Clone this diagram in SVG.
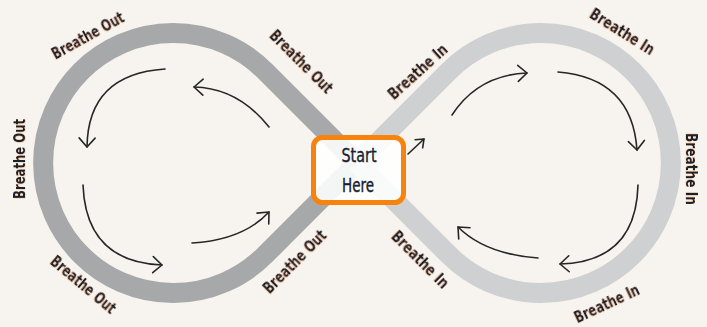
<svg xmlns="http://www.w3.org/2000/svg" width="707" height="327" viewBox="0 0 707 327">
<style>
.bg{fill:#f7f4ef}
.band{fill:none;stroke-width:20;stroke-linejoin:round}
.out{stroke:#a7a8aa}
.in{stroke:#cfd0d2}
.arr{fill:none;stroke:#262626;stroke-width:1.6;stroke-linecap:round}
.lbl{font-family:"DejaVu Sans Condensed","DejaVu Sans",sans-serif;font-stretch:condensed;font-weight:bold;font-size:15.5px;fill:#18202e;text-anchor:middle;dominant-baseline:central;filter:url(#sh)}
.box{fill:#ffffff;fill-opacity:0.88;stroke:#f7830f;stroke-width:5}
.bt{font-family:"DejaVu Sans Condensed","DejaVu Sans",sans-serif;font-stretch:condensed;font-size:19.5px;fill:#18202e;stroke:#18202e;stroke-width:0.35;text-anchor:middle}
</style>
<defs>
<marker id="ah" viewBox="-11 -10 13 20" refX="0" refY="0" markerWidth="13" markerHeight="20" markerUnits="userSpaceOnUse" orient="auto">
<path d="M-9,-8 L0,0 L-9,8" fill="none" stroke="#262626" stroke-width="1.6" stroke-linecap="round" stroke-linejoin="round"/>
</marker>
<marker id="ahs" viewBox="-9 -7 10 14" refX="0" refY="0" markerWidth="10" markerHeight="14" markerUnits="userSpaceOnUse" orient="auto">
<path d="M-7,-5.5 L0,0 L-7,5.5" fill="none" stroke="#262626" stroke-width="1.6" stroke-linecap="round" stroke-linejoin="round"/>
</marker>
<filter id="sh" x="-20%" y="-50%" width="140%" height="200%">
<feDropShadow dx="-0.5" dy="0.5" stdDeviation="0.3" flood-color="#f08a24" flood-opacity="0.45"/>
</filter>
</defs>
<rect class="bg" x="0" y="0" width="707" height="327"/>
<g id="loops">
<path id="loop-out" class="band out" d="M357,163 L265,71 A130,130 0 1 0 265,255 L357,163"/>
<path id="loop-in" class="band in" d="M357,163 L449,71 A130,130 0 1 1 449,255 L357,163"/>
</g>
<g id="connectors">
<path class="arr" marker-end="url(#ah)" d="M269,127 Q238,88 194,87"/>
<path class="arr" marker-end="url(#ah)" d="M165,69 Q88,74 87,147"/>
<path class="arr" marker-end="url(#ah)" d="M83,185 Q86,262 162,265"/>
<path class="arr" marker-end="url(#ah)" d="M192,243 Q243,240 269,212"/>
<path class="arr" marker-end="url(#ah)" d="M452,115 Q478,75 527,73"/>
<path class="arr" marker-end="url(#ah)" d="M558,72 Q632,78 637,150"/>
<path class="arr" marker-end="url(#ah)" d="M638,185 Q636,262 560,264"/>
<path class="arr" marker-end="url(#ah)" d="M538,258 Q485,254 458,227"/>
<path class="arr" marker-end="url(#ahs)" d="M408,154 L424,139"/>
</g>
<g id="labels-out">
<text class="lbl" transform="translate(88,36) rotate(-29)" textLength="80" lengthAdjust="spacingAndGlyphs">Breathe Out</text>
<text class="lbl" transform="translate(301,62) rotate(45)" textLength="82" lengthAdjust="spacingAndGlyphs">Breathe Out</text>
<text class="lbl" transform="translate(20,159) rotate(-90)" textLength="80" lengthAdjust="spacingAndGlyphs">Breathe Out</text>
<text class="lbl" transform="translate(83,285) rotate(40)" textLength="80" lengthAdjust="spacingAndGlyphs">Breathe Out</text>
<text class="lbl" transform="translate(295,262) rotate(-45)" textLength="82" lengthAdjust="spacingAndGlyphs">Breathe Out</text>
</g>
<g id="labels-in">
<text class="lbl" transform="translate(418,72) rotate(-42)" textLength="74" lengthAdjust="spacingAndGlyphs">Breathe In</text>
<text class="lbl" transform="translate(622,32) rotate(32)" textLength="73" lengthAdjust="spacingAndGlyphs">Breathe In</text>
<text class="lbl" transform="translate(691,169) rotate(90)" textLength="72" lengthAdjust="spacingAndGlyphs">Breathe In</text>
<text class="lbl" transform="translate(420,260) rotate(45)" textLength="74" lengthAdjust="spacingAndGlyphs">Breathe In</text>
<text class="lbl" transform="translate(607,304) rotate(-25)" textLength="70" lengthAdjust="spacingAndGlyphs">Breathe In</text>
</g>
<g id="start">
<rect class="box" x="313.5" y="137.5" width="90" height="65" rx="9"/>
<text class="bt" x="359" y="162" textLength="35" lengthAdjust="spacingAndGlyphs">Start</text>
<text class="bt" x="358" y="192" textLength="32" lengthAdjust="spacingAndGlyphs">Here</text>
</g>
</svg>
